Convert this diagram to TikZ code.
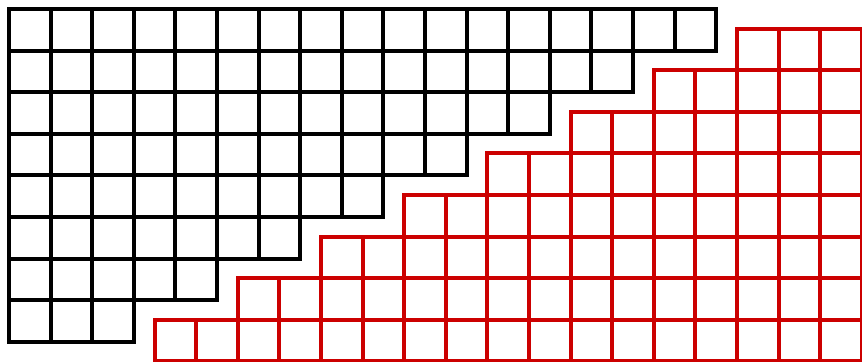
\documentclass[tikz,border=0pt]{standalone}
\usepackage{tikz}
\usetikzlibrary{calc}
\definecolor{gridred}{RGB}{204,0,0}

\begin{document}
\begin{tikzpicture}[
    blkcell/.style={draw=black, line width=2.7pt, line join=miter},
    redcell/.style={draw=gridred, line width=2.7pt, line join=miter},
]
\useasboundingbox (0,0) rectangle (20.72,-8.70);

% Black staircase (17, 15, ..., 3 cells)
\begin{scope}[shift={(0.216,-0.216)}]
\foreach \r [evaluate=\r as \n using int(17-2*\r)] in {0,...,7} {
    \foreach \c in {1,...,\n} {
        \draw[blkcell] (\c-1,-\r) rectangle ++(1,-1);
    }
}
\end{scope}

% Red staircase (3, 5, ..., 17 cells), right aligned
\begin{scope}[shift={(3.716,-0.686)}]
\foreach \r [evaluate=\r as \s using int(14-2*\r)] in {0,...,7} {
    \foreach \c in {\s,...,16} {
        \draw[redcell] (\c,-\r) rectangle ++(1,-1);
    }
}
\end{scope}

\end{tikzpicture}
\end{document}
